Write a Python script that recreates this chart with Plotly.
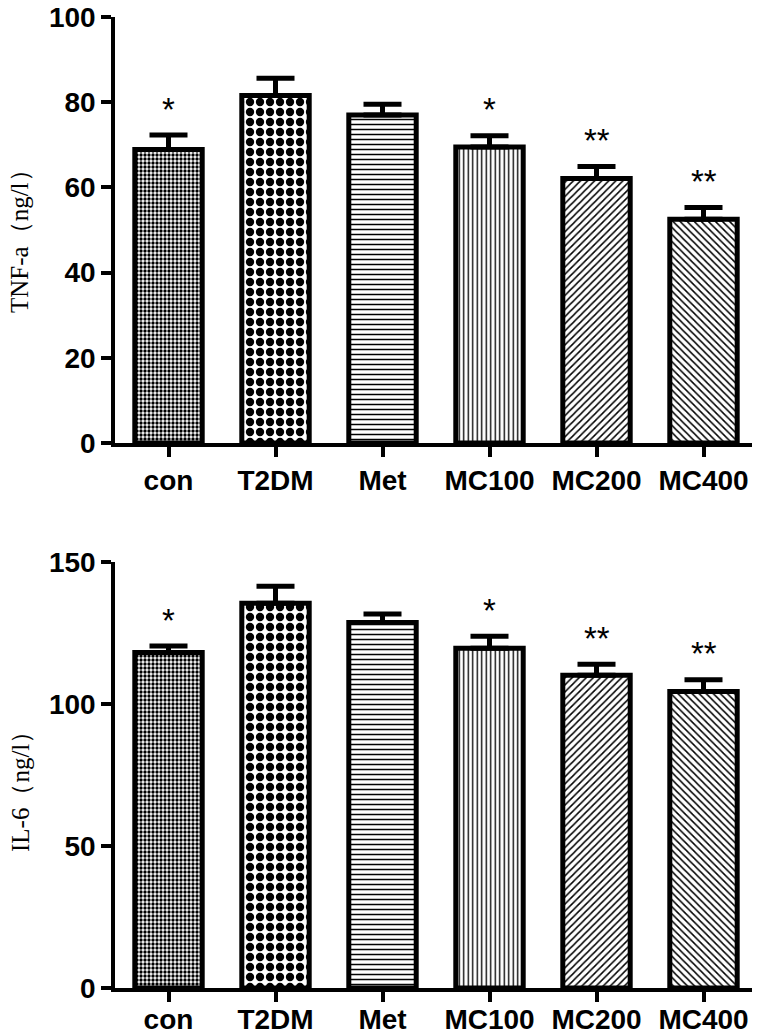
import plotly.graph_objects as go

categories = ["con", "T2DM", "Met", "MC100", "MC200", "MC400"]
tnf_mean = [68.9, 81.6, 77.0, 69.5, 62.1, 52.5]
tnf_sem = [3.4, 4.0, 2.5, 2.6, 2.8, 2.8]
il6_mean = [118.1, 135.5, 128.7, 119.6, 110.1, 104.4]
il6_sem = [2.3, 6.0, 3.0, 4.3, 3.9, 4.1]
stars = ["*", "", "", "*", "**", "**"]

pattern_shapes = [".", ".", "-", "|", "/", "\\"]
pattern_sizes = [4, 10, 5, 4.5, 5, 5]
pattern_solid = [0.55, 0.55, 0.3, 0.3, 0.3, 0.3]

tick_font = dict(family="Liberation Sans", size=28, color="black", weight="bold")

fig = go.Figure()


def add_bars(mean, sem, xa, ya):
    fig.add_trace(go.Bar(
        x=categories, y=mean, xaxis=xa, yaxis=ya, width=0.63,
        marker=dict(color="white",
                    line=dict(color="black", width=5),
                    pattern=dict(shape=pattern_shapes, size=pattern_sizes,
                                 solidity=pattern_solid, fgcolor="black",
                                 bgcolor="white", fillmode="replace")),
        error_y=dict(type="data", array=sem, arrayminus=[0] * len(sem),
                     symmetric=False, color="black", thickness=5, width=19),
        showlegend=False, cliponaxis=False,
    ))


add_bars(tnf_mean, tnf_sem, "x", "y")
add_bars(il6_mean, il6_sem, "x2", "y2")

axis_common = dict(showline=True, linecolor="black", linewidth=3.5,
                   ticks="outside", tickcolor="black", tickwidth=3.5,
                   showgrid=False, zeroline=False, tickfont=tick_font,
                   automargin=False, ticklabeloverflow="allow")

# page body has an 8px default margin, so the figure is 8px smaller than the window
fig.update_layout(
    width=752, height=1025,
    margin=dict(l=107, r=3, t=9, b=45),
    plot_bgcolor="white", paper_bgcolor="white",
    xaxis=dict(domain=[0, 1], anchor="y", range=[-0.5, 5.5], ticklen=10, **axis_common),
    yaxis=dict(domain=[0.5613, 1], anchor="x", range=[0, 100], dtick=20, ticklen=10, **axis_common),
    xaxis2=dict(domain=[0, 1], anchor="y2", range=[-0.5, 5.5], ticklen=10,
                ticklabelstandoff=-6, **axis_common),
    yaxis2=dict(domain=[0, 0.4387], anchor="x2", range=[0, 150], dtick=50, ticklen=10, **axis_common),
)

for mean, sem, xr, yr in [(tnf_mean, tnf_sem, "x", "y"), (il6_mean, il6_sem, "x2", "y2")]:
    for c, m, s, st in zip(categories, mean, sem, stars):
        if st:
            fig.add_annotation(x=c, y=m + s, xref=xr, yref=yr, text=st,
                               showarrow=False, yanchor="middle", yshift=26,
                               font=dict(family="Liberation Sans", size=33, color="black"))

fig.add_annotation(x=-0.148, y=0.7755, xref="paper", yref="paper",
                   text="TNF-a（ng/l）", textangle=-90, showarrow=False,
                   xanchor="center", yanchor="middle",
                   font=dict(family="Liberation Serif", size=25, color="black"))
fig.add_annotation(x=-0.148, y=0.209, xref="paper", yref="paper",
                   text="IL-6（ng/l）", textangle=-90, showarrow=False,
                   xanchor="center", yanchor="middle",
                   font=dict(family="Liberation Serif", size=25, color="black"))

fig.write_html("out.html")
